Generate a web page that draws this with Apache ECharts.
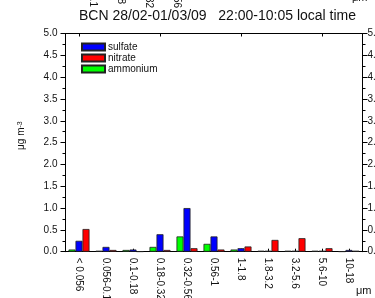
<!DOCTYPE html>
<html>
<head>
<meta charset="utf-8">
<script src="https://cdn.jsdelivr.net/npm/echarts@6/dist/echarts.min.js"></script>
<style>
html,body{margin:0;padding:0;background:#fff;}
#c{width:375px;height:298px;}
</style>
</head>
<body>
<div id="c"></div>
<script>
var categories = ['< 0.056','0.056-0.1','0.1-0.18','0.18-0.32','0.32-0.56','0.56-1','1-1.8','1.8-3.2','3.2-5.6','5.6-10','10-18'];
var ammonium = [0.05, 0.02, 0.04, 0.11, 0.35, 0.18, 0.05, 0.02, 0.02, 0.02, 0.005];
var sulfate  = [0.25, 0.11, 0.05, 0.40, 1.00, 0.35, 0.08, 0.02, 0.02, 0.02, 0.04];
var nitrate  = [0.52, 0.04, 0.005, 0.04, 0.08, 0.05, 0.12, 0.27, 0.31, 0.08, 0.02];
var yTicks = [0, 0.5, 1, 1.5, 2, 2.5, 3, 3.5, 4, 4.5, 5];
var topClippedLabels = ['0.056-0.1', '0.1-0.18', '0.18-0.32', '0.32-0.56'];
var titleText = 'BCN 28/02-01/03/09   22:00-10:05 local time';

var FONT = '"Liberation Sans", Arial, sans-serif';
var chart = echarts.init(document.getElementById('c'), null, {renderer: 'canvas'});

function bar(name, data, color) {
  return {
    name: name, type: 'bar', data: data,
    barWidth: 7, barGap: '0%',
    itemStyle: {color: color, borderColor: '#222', borderWidth: 0.8}
  };
}
var yCommon = {
  type: 'value', min: yTicks[0], max: yTicks[yTicks.length - 1], interval: yTicks[1] - yTicks[0],
  splitLine: {show: false},
  axisLine: {show: true, lineStyle: {color: '#000', width: 1}},
  axisTick: {show: true, inside: false, length: 5, lineStyle: {color: '#000'}},
  minorTick: {show: true, splitNumber: 2, length: 3, lineStyle: {color: '#000'}},
  axisLabel: {fontFamily: FONT, fontSize: 10, color: '#111', hideOverlap: false, formatter: function (v) { return v.toFixed(1); }}
};

var graphics = [];
var topX = [93, 121, 149, 177];
var topEnd = [7, 4, 8, 8];
topClippedLabels.forEach(function (t, i) {
  graphics.push({
    type: 'text', x: topX[i], y: topEnd[i], rotation: -Math.PI / 2,
    style: {text: t, align: 'right', verticalAlign: 'middle', font: '10px ' + FONT, fill: '#111'}
  });
});
graphics.push({type: 'text', left: 352, top: -8, style: {text: 'μm', font: '11px ' + FONT, fill: '#111'}});
graphics.push({type: 'text', left: 356, top: 285, style: {text: 'μm', font: '11px ' + FONT, fill: '#111'}});

chart.setOption({
  animation: false,
  backgroundColor: '#fff',
  title: {
    text: titleText, left: 79, top: 9, padding: 0,
    textStyle: {fontFamily: FONT, fontSize: 14, fontWeight: 'normal', color: '#111'}
  },
  legend: {
    data: ['sulfate', 'nitrate', 'ammonium'],
    orient: 'vertical', left: 81, top: 42, padding: 0,
    itemWidth: 23, itemHeight: 7, itemGap: 1,
    icon: 'rect',
    textStyle: {fontFamily: FONT, fontSize: 10, color: '#111', lineHeight: 9, padding: [0, 0, 0, -2]}
  },
  grid: {left: 65.5, right: 12.5, top: 33.5, bottom: 46.3, containLabel: false, outerBoundsMode: 'none'},
  xAxis: [{
    type: 'category', data: categories, position: 'bottom',
    axisLine: {show: true, onZero: false, lineStyle: {color: '#000', width: 1}},
    axisTick: {show: true, inside: true, alignWithLabel: true, length: 3, lineStyle: {color: '#000'}},
    axisLabel: {rotate: -90, margin: 6, interval: 0, fontFamily: FONT, fontSize: 10, color: '#111'}
  }, {
    type: 'category', data: categories, position: 'top',
    axisLine: {show: true, onZero: false, lineStyle: {color: '#000', width: 1}},
    axisTick: {show: true, inside: true, alignWithLabel: true, length: 3, lineStyle: {color: '#000'}},
    axisLabel: {show: false}
  }],
  yAxis: [
    Object.assign({}, yCommon, {
      position: 'left',
      axisLabel: Object.assign({}, yCommon.axisLabel, {margin: 8}),
      name: '{a|μg m}{b|-3}', nameLocation: 'middle', nameRotate: 90, nameGap: 39,
      nameTextStyle: {
        fontFamily: FONT, fontSize: 10, color: '#111', padding: [0, 0, 0, 14],
        rich: {
          a: {fontFamily: FONT, fontSize: 10, color: '#111'},
          b: {fontFamily: FONT, fontSize: 7, color: '#111', verticalAlign: 'top', lineHeight: 10, padding: [0, 0, 6, 0]}
        }
      }
    }),
    Object.assign({}, yCommon, {
      position: 'right',
      axisLabel: Object.assign({}, yCommon.axisLabel, {margin: 5})
    })
  ],
  series: [
    bar('ammonium', ammonium, '#00ff00'),
    bar('sulfate', sulfate, '#0000ff'),
    bar('nitrate', nitrate, '#ff0000')
  ],
  graphic: graphics
});
</script>
</body>
</html>
